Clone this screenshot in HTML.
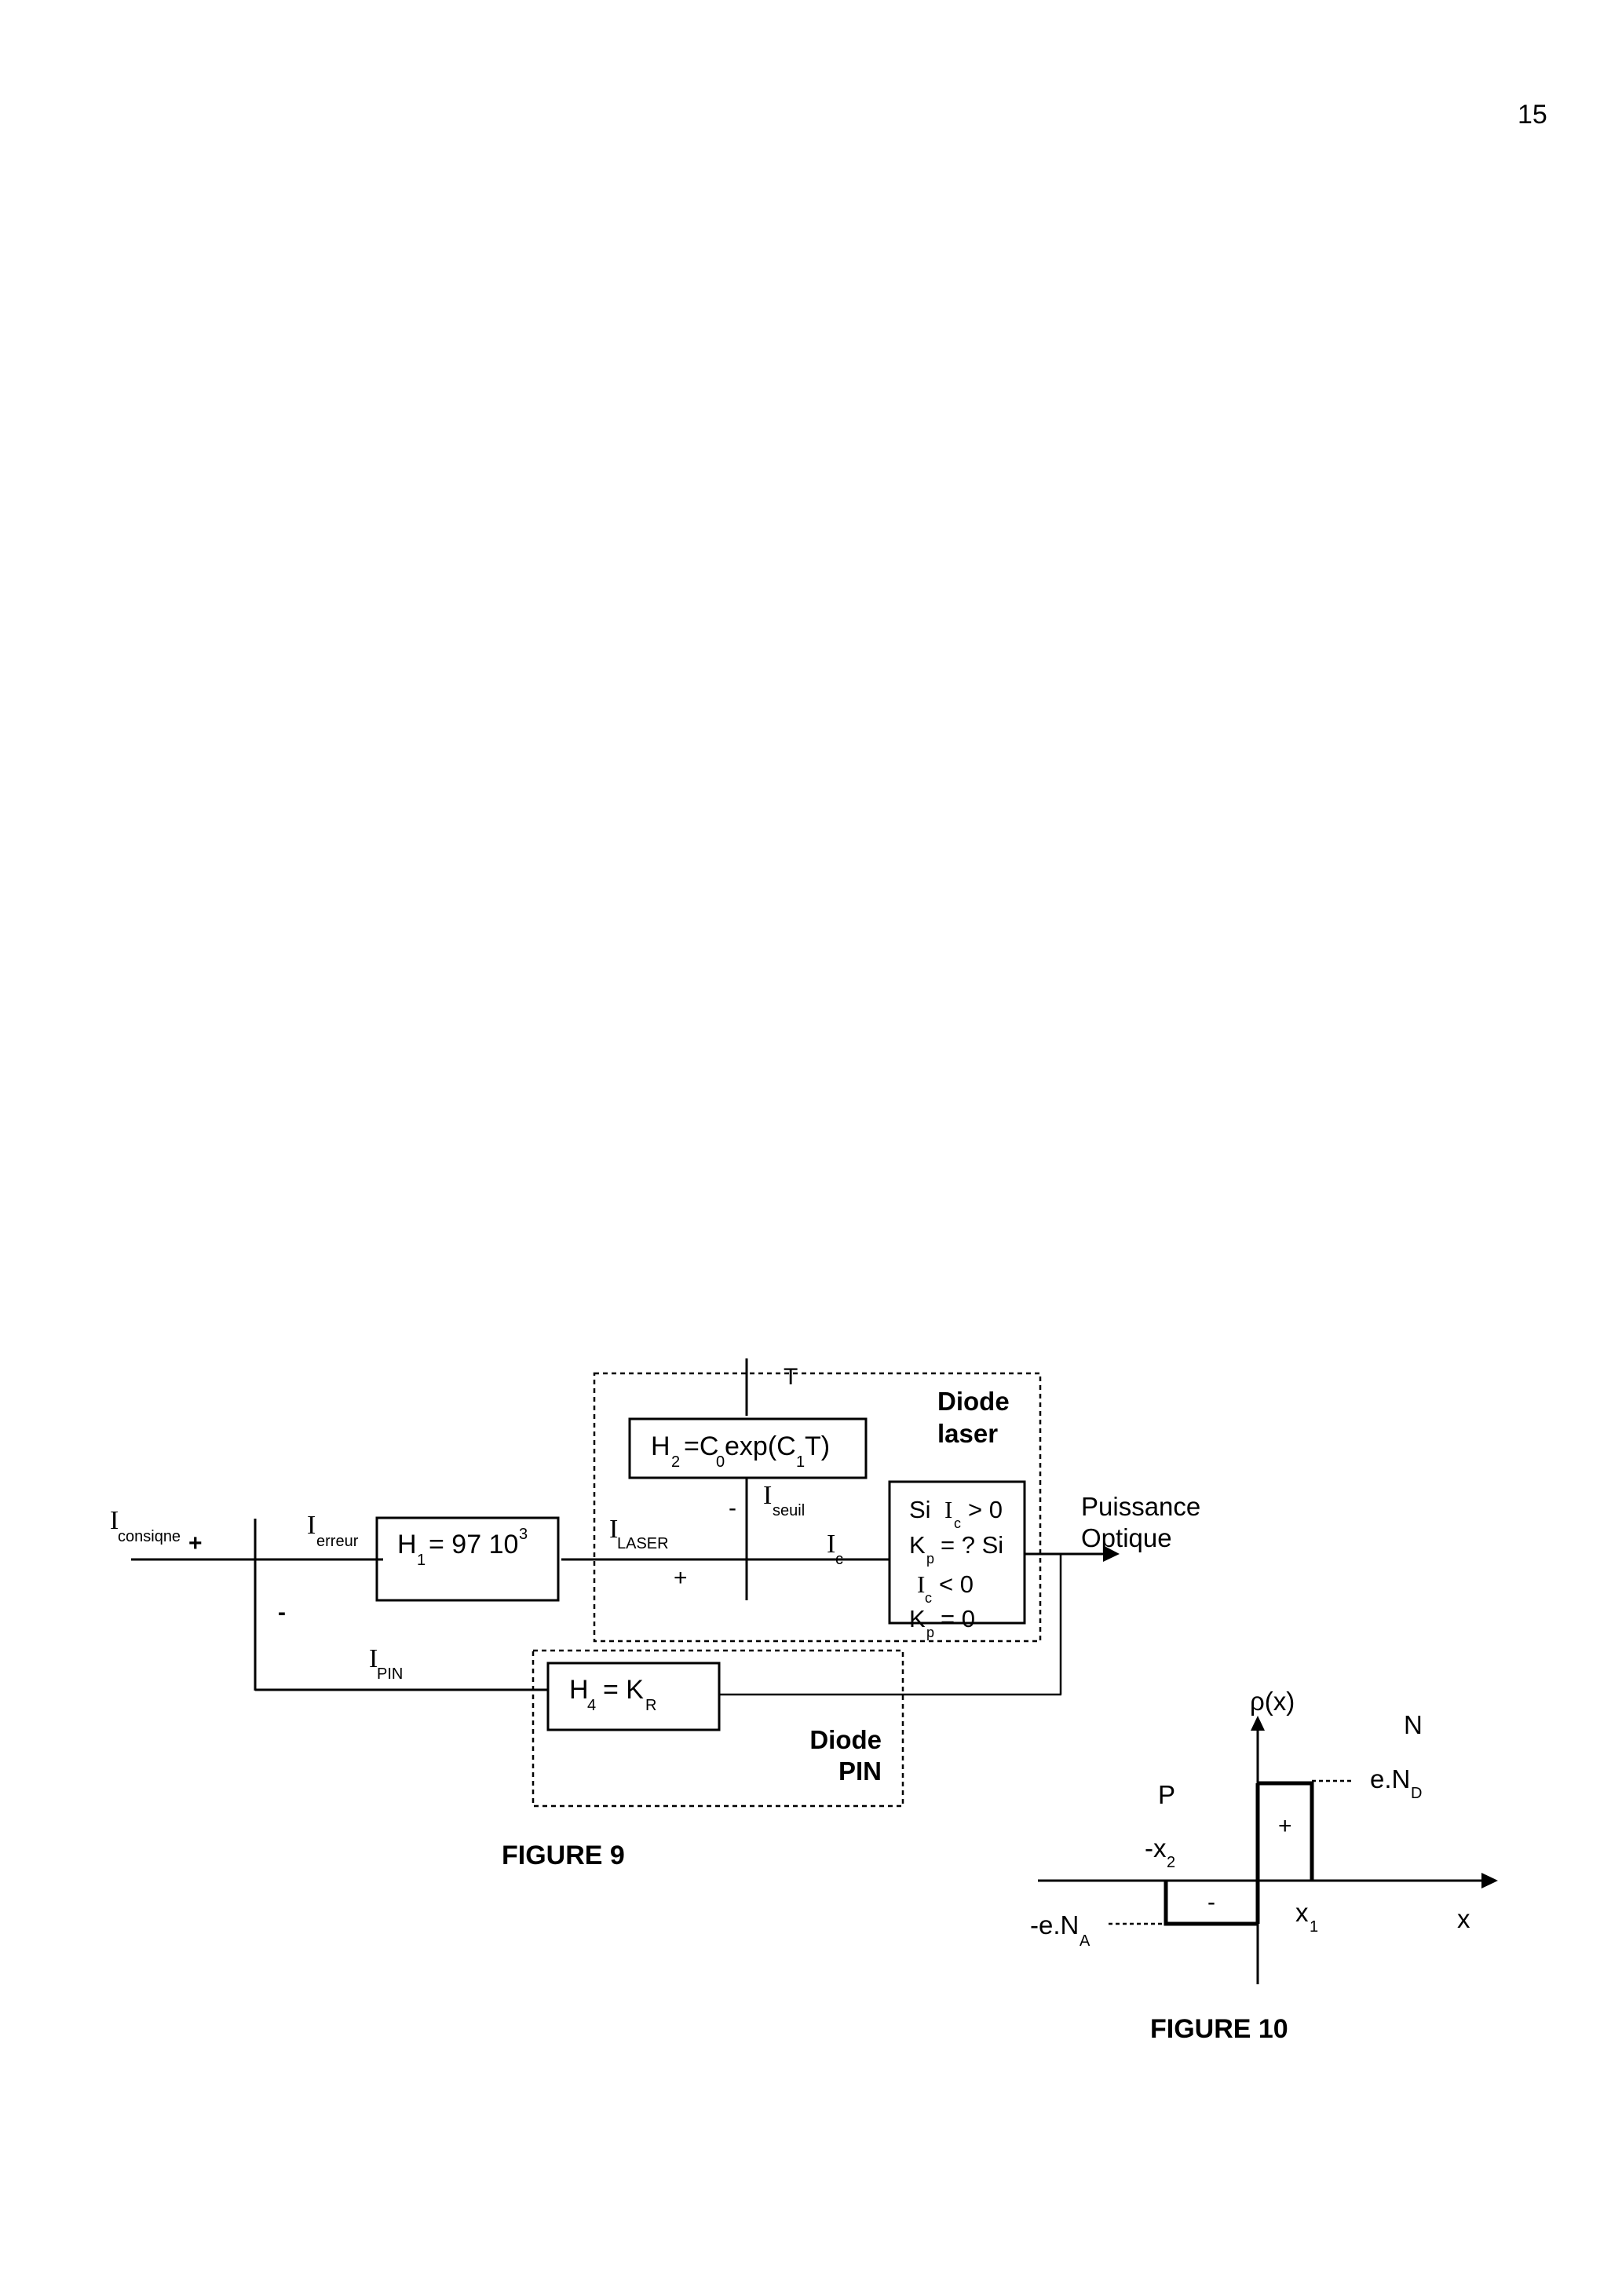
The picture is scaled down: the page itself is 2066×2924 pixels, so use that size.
<!DOCTYPE html>
<html><head><meta charset="utf-8"><style>
html,body{margin:0;padding:0;background:#fff}
svg{display:block}
text{font-family:"Liberation Sans",Arial,sans-serif;fill:#000}
.s{font-family:"Liberation Serif","Times New Roman",serif}
.b{font-weight:bold}
</style></head><body>
<svg width="2066" height="2924" viewBox="0 0 2066 2924" xmlns="http://www.w3.org/2000/svg">
<rect width="2066" height="2924" fill="#fff"/>
<text x="1933" y="157" font-size="34">15</text>

<g stroke="#000" fill="none">
<rect x="757" y="1749" width="568" height="341" stroke-width="2.5" stroke-dasharray="6,5"/>
<rect x="679" y="2102" width="471" height="198" stroke-width="2.5" stroke-dasharray="6,5"/>
<line x1="167" y1="1986" x2="488" y2="1986" stroke-width="3"/>
<line x1="325" y1="1934" x2="325" y2="2153" stroke-width="3"/>
<line x1="325" y1="2152" x2="698" y2="2152" stroke-width="3"/>
<line x1="715" y1="1986" x2="1133" y2="1986" stroke-width="3"/>
<line x1="951" y1="1730" x2="951" y2="1803" stroke-width="3"/>
<line x1="951" y1="1882" x2="951" y2="2038" stroke-width="3"/>
<line x1="1305" y1="1979" x2="1405" y2="1979" stroke-width="3"/>
<line x1="1351" y1="1979" x2="1351" y2="2158" stroke-width="2.5"/>
<line x1="916" y1="2158" x2="1352" y2="2158" stroke-width="2.5"/>
<rect x="480" y="1933" width="231" height="105" stroke-width="3"/>
<rect x="802" y="1807" width="301" height="75" stroke-width="3"/>
<rect x="1133" y="1887" width="172" height="180" stroke-width="3"/>
<rect x="698" y="2118" width="218" height="85" stroke-width="3"/>
</g>
<polygon points="1405,1968 1426,1979 1405,1989" fill="#000"/>

<text x="140" y="1947" class="s" font-size="34">I</text>
<text x="150" y="1963" font-size="20">consiqne</text>
<text x="240" y="1975" font-size="30" class="b">+</text>
<text x="391" y="1953" class="s" font-size="34">I</text>
<text x="403" y="1969" font-size="20">erreur</text>
<text x="506" y="1978" font-size="34">H</text>
<text x="531" y="1993" font-size="20">1</text>
<text x="546" y="1978" font-size="34">= 97 10</text>
<text x="661" y="1960" font-size="20">3</text>
<text x="354" y="2063" font-size="30" class="b">-</text>
<text x="470" y="2123" class="s" font-size="34">I</text>
<text x="480" y="2138" font-size="20">PIN</text>
<text x="776" y="1958" class="s" font-size="34">I</text>
<text x="786" y="1972" font-size="20">LASER</text>
<text x="858" y="2019" font-size="30">+</text>
<text x="928" y="1930" font-size="30">-</text>
<text x="972" y="1915" class="s" font-size="34">I</text>
<text x="984" y="1930" font-size="20">seuil</text>
<text x="1053" y="1977" class="s" font-size="34">I</text>
<text x="1064" y="1992" font-size="20">c</text>
<text x="998" y="1763" font-size="30">T</text>
<text x="829" y="1853" font-size="34">H</text>
<text x="855" y="1868" font-size="20">2</text>
<text x="871" y="1853" font-size="34">=C</text>
<text x="912" y="1868" font-size="20">0</text>
<text x="923" y="1853" font-size="34">exp(C</text>
<text x="1014" y="1868" font-size="20">1</text>
<text x="1025" y="1853" font-size="34">T)</text>
<text x="1194" y="1796" font-size="33" class="b">Diode</text>
<text x="1194" y="1837" font-size="33" class="b">laser</text>
<text x="1158" y="1933" font-size="31">Si</text>
<text x="1203" y="1933" class="s" font-size="31">I</text>
<text x="1215" y="1946" font-size="18">c</text>
<text x="1233" y="1933" font-size="31">&gt; 0</text>
<text x="1158" y="1978" font-size="31">K</text>
<text x="1180" y="1991" font-size="18">p</text>
<text x="1198" y="1978" font-size="31">= ? Si</text>
<text x="1168" y="2028" class="s" font-size="31">I</text>
<text x="1178" y="2041" font-size="18">c</text>
<text x="1196" y="2028" font-size="31">&lt; 0</text>
<text x="1158" y="2072" font-size="31">K</text>
<text x="1180" y="2085" font-size="18">p</text>
<text x="1198" y="2072" font-size="31">= 0</text>
<text x="1377" y="1930" font-size="33">Puissance</text>
<text x="1377" y="1970" font-size="33">Optique</text>
<text x="725" y="2163" font-size="34">H</text>
<text x="748" y="2178" font-size="20">4</text>
<text x="768" y="2163" font-size="34">= K</text>
<text x="822" y="2178" font-size="20">R</text>
<text x="1123" y="2227" font-size="33" class="b" text-anchor="end">Diode</text>
<text x="1123" y="2267" font-size="33" class="b" text-anchor="end">PIN</text>
<text x="639" y="2374" font-size="34" class="b">FIGURE 9</text>

<g stroke="#000" fill="none">
<line x1="1322" y1="2395" x2="1890" y2="2395" stroke-width="3"/>
<line x1="1602" y1="2527" x2="1602" y2="2200" stroke-width="3"/>
<polyline points="1602,2271 1671,2271 1671,2395" stroke-width="5"/>
<line x1="1602" y1="2271" x2="1602" y2="2450" stroke-width="5"/>
<polyline points="1485,2395 1485,2450 1602,2450" stroke-width="5"/>
<line x1="1671" y1="2268" x2="1725" y2="2268" stroke-width="2.5" stroke-dasharray="5,4"/>
<line x1="1412" y1="2450" x2="1485" y2="2450" stroke-width="2.5" stroke-dasharray="5,4"/>
</g>
<polygon points="1887,2385 1908,2395 1887,2405" fill="#000"/>
<polygon points="1593,2204 1602,2185 1611,2204" fill="#000"/>
<text x="1592" y="2178" font-size="33">ρ(x)</text>
<text x="1788" y="2208" font-size="33">N</text>
<text x="1745" y="2277" font-size="33">e.N</text>
<text x="1797" y="2290" font-size="20">D</text>
<text x="1475" y="2297" font-size="33">P</text>
<text x="1628" y="2335" font-size="30">+</text>
<text x="1458" y="2365" font-size="33">-x</text>
<text x="1486" y="2378" font-size="20">2</text>
<text x="1538" y="2432" font-size="30">-</text>
<text x="1650" y="2447" font-size="33">x</text>
<text x="1668" y="2460" font-size="20">1</text>
<text x="1856" y="2455" font-size="33">x</text>
<text x="1312" y="2463" font-size="33">-e.N</text>
<text x="1375" y="2478" font-size="20">A</text>
<text x="1465" y="2595" font-size="34" class="b">FIGURE 10</text>
</svg>
</body></html>
